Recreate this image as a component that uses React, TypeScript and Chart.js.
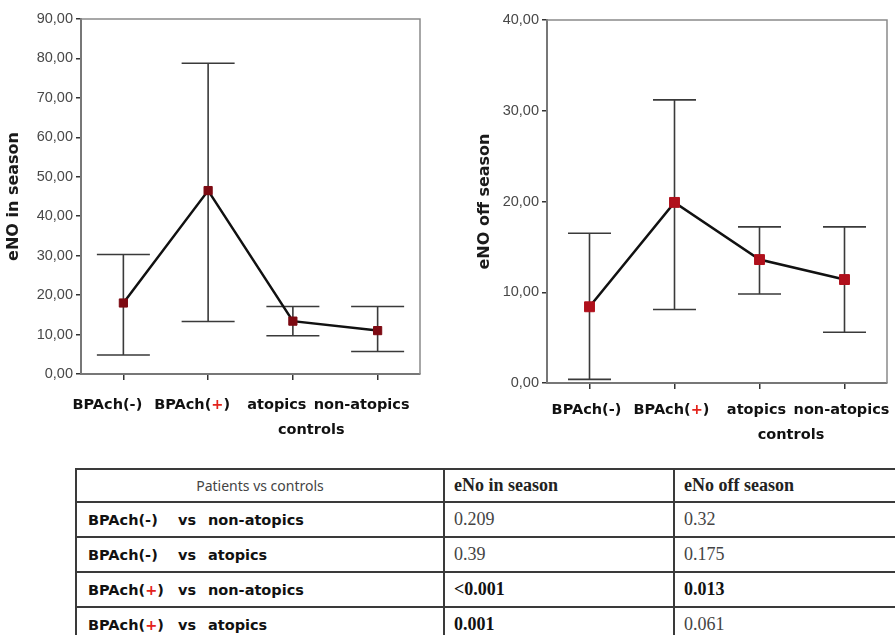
import React, { useEffect, useRef } from "react";
import { Chart, registerables } from "chart.js";

Chart.register(...registerables);

// ---------- data ----------
const categories = ["BPAch(-)", "BPAch(+)", "atopics", "non-atopics"];
const groupLabel = "controls";

const inSeasonMean = [18.0, 46.5, 13.4, 11.0];
const inSeasonUpper = [30.3, 78.8, 17.1, 17.1];
const inSeasonLower = [4.8, 13.3, 9.7, 5.7];

const offSeasonMean = [8.4, 19.9, 13.6, 11.4];
const offSeasonUpper = [16.5, 31.2, 17.2, 17.2];
const offSeasonLower = [0.4, 8.1, 9.8, 5.6];

const inSeasonTitle = "eNO in season";
const offSeasonTitle = "eNO off season";
const inSeasonMax = 90;
const offSeasonMax = 40;
const tickStep = 10;

const tableHeader = ["Patients vs controls", "eNo in season", "eNo off season"];
const comparisonPatients = ["BPAch(-)", "BPAch(-)", "BPAch(+)", "BPAch(+)"];
const comparisonControls = ["non-atopics", "atopics", "non-atopics", "atopics"];
const pInSeason = ["0.209", "0.39", "<0.001", "0.001"];
const pOffSeason = ["0.32", "0.175", "0.013", "0.061"];
const pInSeasonBold = [false, false, true, true];
const pOffSeasonBold = [false, false, true, false];

const LABEL_FONT = 'bold 14.5px "DejaVu Sans"';
const RED = "#e3231b";

function drawColoredLabel(ctx: CanvasRenderingContext2D, text: string, cx: number, y: number) {
  const parts = text.split(/(\+)/).filter((p) => p.length > 0);
  const total = parts.reduce((s, p) => s + ctx.measureText(p).width, 0);
  let x = cx - total / 2;
  ctx.textAlign = "left";
  for (const p of parts) {
    ctx.fillStyle = p === "+" ? RED : "#111";
    ctx.fillText(p, x, y);
    x += ctx.measureText(p).width;
  }
}

type PanelProps = {
  mean: number[];
  upper: number[];
  lower: number[];
  yMax: number;
  title: string;
  pointColor: string;
  pointRadius: number;
  capHalf: number;
  labelShift: number;
  labelGap: number;
  titlePad: number;
  left: number;
  width: number;
  height: number;
  yWidth: number;
  padTop: number;
  padRight: number;
};

function Panel(p: PanelProps) {
  const ref = useRef<HTMLCanvasElement | null>(null);
  useEffect(() => {
    if (!ref.current) return;
    const plugin = {
      id: "errAndLabels",
      beforeDatasetsDraw(chart: any) {
        const ctx = chart.ctx as CanvasRenderingContext2D;
        const xs = chart.scales.x;
        const ys = chart.scales.y;
        ctx.save();
        ctx.strokeStyle = "#3a3a3a";
        ctx.lineWidth = 1.6;
        for (let i = 0; i < p.mean.length; i++) {
          const x = xs.getPixelForValue(i);
          const yh = ys.getPixelForValue(p.upper[i]);
          const yl = ys.getPixelForValue(p.lower[i]);
          ctx.beginPath();
          ctx.moveTo(x, yh);
          ctx.lineTo(x, yl);
          ctx.moveTo(x - p.capHalf, yh);
          ctx.lineTo(x + p.capHalf, yh);
          ctx.moveTo(x - p.capHalf, yl);
          ctx.lineTo(x + p.capHalf, yl);
          ctx.stroke();
        }
        ctx.restore();
      },
      afterDraw(chart: any) {
        const ctx = chart.ctx as CanvasRenderingContext2D;
        const ca = chart.chartArea;
        const xs = chart.scales.x;
        ctx.save();
        // plot frame (top & right)
        ctx.strokeStyle = "#8a8a8a";
        ctx.lineWidth = 1.5;
        ctx.beginPath();
        ctx.moveTo(ca.left, ca.top);
        ctx.lineTo(ca.right, ca.top);
        ctx.lineTo(ca.right, ca.bottom);
        ctx.stroke();
        // category labels
        ctx.font = LABEL_FONT;
        ctx.textBaseline = "middle";
        const y1 = ca.bottom + p.labelGap;
        categories.forEach((lab, i) => {
          drawColoredLabel(ctx, lab, xs.getPixelForValue(i) + p.labelShift, y1);
        });
        const n = categories.length;
        const mid = (xs.getPixelForValue(n - 2) + xs.getPixelForValue(n - 1)) / 2 + p.labelShift - 8;
        ctx.fillStyle = "#111";
        ctx.textAlign = "center";
        ctx.fillText(groupLabel, mid, y1 + 25);
        ctx.restore();
      },
    };
    const chart = new Chart(ref.current, {
      type: "line",
      data: {
        labels: categories,
        datasets: [
          {
            data: p.mean,
            borderColor: "#111",
            borderWidth: 2.5,
            pointStyle: "rect",
            pointRadius: p.pointRadius,
            pointBackgroundColor: p.pointColor,
            pointBorderColor: p.pointColor,
            pointBorderWidth: 1,
            tension: 0,
            fill: false,
          },
        ],
      },
      options: {
        animation: false,
        responsive: false,
        layout: { padding: { top: p.padTop, right: p.padRight, left: 0, bottom: 0 } },
        plugins: { legend: { display: false }, tooltip: { enabled: false } },
        scales: {
          x: {
            type: "category",
            offset: true,
            grid: {
              display: true,
              drawOnChartArea: false,
              drawTicks: true,
              tickLength: 6,
              offset: false,
              color: "#333",
              lineWidth: 1.5,
            },
            border: { display: true, color: "#777", width: 2 },
            ticks: { display: false },
            afterFit: (s: any) => {
              s.height = 66;
            },
          },
          y: {
            min: 0,
            max: p.yMax,
            ticks: {
              stepSize: tickStep,
              color: "#484848",
              padding: 3,
              font: { family: '"Liberation Sans", Arial, sans-serif', size: 14.5 },
              callback: (v: any) => Number(v).toFixed(2).replace(".", ","),
            },
            grid: { drawOnChartArea: false, tickLength: 5, color: "#333", lineWidth: 1.5 },
            border: { display: true, color: "#777", width: 2 },
            title: {
              display: true,
              text: p.title,
              color: "#1a1a1a",
              font: { family: '"DejaVu Sans", sans-serif', size: 16, weight: "bold" },
              padding: { top: p.titlePad, bottom: 0 },
            },
            afterFit: (s: any) => {
              s.width = p.yWidth;
            },
          },
        },
      } as any,
      plugins: [plugin],
    });
    return () => chart.destroy();
  }, []);
  return (
    <canvas
      ref={ref}
      width={p.width}
      height={p.height}
      style={{ position: "absolute", left: p.left, top: 0, width: p.width, height: p.height }}
    />
  );
}

const cellBorder = "2px solid #3a3a3a";

function ComparisonLabel({ patient, control }: { patient: string; control: string }) {
  const parts = patient.split(/(\+)/).filter((s) => s.length > 0);
  return (
    <span style={{ font: LABEL_FONT, color: "#111", whiteSpace: "nowrap" }}>
      <span style={{ display: "inline-block", width: 90 }}>
        {parts.map((s, i) => (
          <span key={i} style={{ color: s === "+" ? RED : "#111" }}>
            {s}
          </span>
        ))}
      </span>
      <span style={{ display: "inline-block", width: 30 }}>vs</span>
      <span>{control}</span>
    </span>
  );
}

export default function App() {
  useEffect(() => {
    document.body.style.margin = "0";
  }, []);
  const serif = '"Liberation Serif", "Times New Roman", serif';
  return (
    <div style={{ position: "relative", width: 895, height: 635, overflow: "hidden", background: "#fff" }}>
      <Panel
        mean={inSeasonMean}
        upper={inSeasonUpper}
        lower={inSeasonLower}
        yMax={inSeasonMax}
        title={inSeasonTitle}
        pointColor="#7d0a12"
        pointRadius={5.8}
        capHalf={26.5}
        labelShift={-16}
        labelGap={31}
        titlePad={4}
        left={0}
        width={430}
        height={440}
        yWidth={81}
        padTop={19}
        padRight={10}
      />
      <Panel
        mean={offSeasonMean}
        upper={offSeasonUpper}
        lower={offSeasonLower}
        yMax={offSeasonMax}
        title={offSeasonTitle}
        pointColor="#b0101c"
        pointRadius={7}
        capHalf={21.5}
        labelShift={-3}
        labelGap={27}
        titlePad={10}
        left={465}
        width={430}
        height={449}
        yWidth={82}
        padTop={20}
        padRight={2}
      />
      <table
        style={{
          position: "absolute",
          left: 75,
          top: 468,
          borderCollapse: "collapse",
          tableLayout: "fixed",
          width: 830,
        }}
      >
        <colgroup>
          <col style={{ width: 368 }} />
          <col style={{ width: 230 }} />
          <col style={{ width: 232 }} />
        </colgroup>
        <tbody>
          <tr style={{ height: 33 }}>
            <td
              style={{
                border: cellBorder,
                textAlign: "center",
                font: '14px "Noto Sans", sans-serif',
                color: "#444",
                padding: 0,
              }}
            >
              {tableHeader[0]}
            </td>
            <td style={{ border: cellBorder, font: `bold 18px ${serif}`, color: "#222", padding: "0 0 0 9px" }}>
              {tableHeader[1]}
            </td>
            <td style={{ border: cellBorder, font: `bold 18px ${serif}`, color: "#222", padding: "0 0 0 9px" }}>
              {tableHeader[2]}
            </td>
          </tr>
          {comparisonPatients.map((pt, i) => (
            <tr key={i} style={{ height: 35 }}>
              <td style={{ border: cellBorder, padding: "0 0 0 11px" }}>
                <ComparisonLabel patient={pt} control={comparisonControls[i]} />
              </td>
              <td
                style={{
                  border: cellBorder,
                  padding: "0 0 0 9px",
                  font: `${pInSeasonBold[i] ? "bold " : ""}18px ${serif}`,
                  color: pInSeasonBold[i] ? "#111" : "#444",
                }}
              >
                {pInSeason[i]}
              </td>
              <td
                style={{
                  border: cellBorder,
                  padding: "0 0 0 9px",
                  font: `${pOffSeasonBold[i] ? "bold " : ""}18px ${serif}`,
                  color: pOffSeasonBold[i] ? "#111" : "#444",
                }}
              >
                {pOffSeason[i]}
              </td>
            </tr>
          ))}
        </tbody>
      </table>
    </div>
  );
}
